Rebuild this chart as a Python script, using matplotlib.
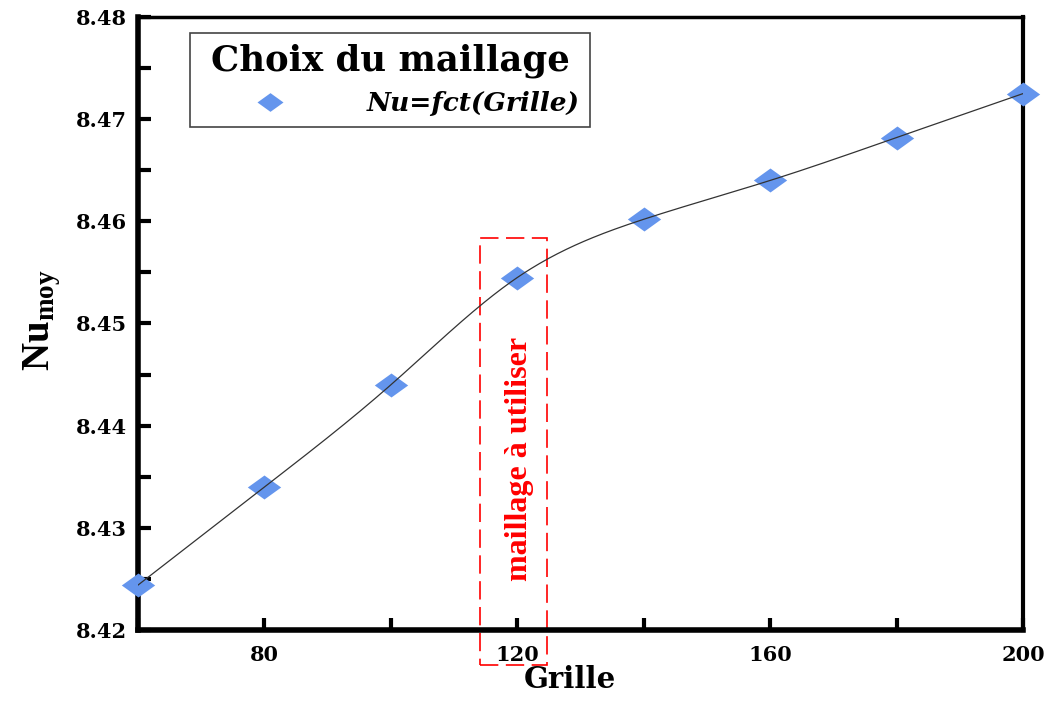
#!/usr/bin/env python3

import matplotlib
matplotlib.use('Agg')
import matplotlib.pyplot as plt
from matplotlib.patches import Rectangle
from matplotlib.ticker import MultipleLocator, FormatStrFormatter
import numpy as np

grille = [60, 80, 100, 120, 140, 160, 180, 200]
nu_moy = [8.4244, 8.4340, 8.4440, 8.4545, 8.4602, 8.4640, 8.4682, 8.4725]

legend_title = 'Choix du maillage'
series_label = 'Nu=fct(Grille)'
note = 'maillage à utiliser'


def natural_spline(x, y, n=400):
    # plain natural cubic spline, just for the smooth line through the points
    x = np.asarray(x, float)
    y = np.asarray(y, float)
    h = np.diff(x)
    k = len(x)
    A = np.zeros((k, k))
    b = np.zeros(k)
    A[0, 0] = A[-1, -1] = 1
    for i in range(1, k - 1):
        A[i, i - 1] = h[i - 1]
        A[i, i] = 2 * (h[i - 1] + h[i])
        A[i, i + 1] = h[i]
        b[i] = 6 * ((y[i + 1] - y[i]) / h[i] - (y[i] - y[i - 1]) / h[i - 1])
    m = np.linalg.solve(A, b)
    xs = np.linspace(x[0], x[-1], n)
    idx = np.clip(np.searchsorted(x, xs) - 1, 0, k - 2)
    t = xs - x[idx]
    hi = h[idx]
    a = (m[idx + 1] - m[idx]) / (6 * hi)
    c = m[idx] / 2
    d = (y[idx + 1] - y[idx]) / hi - hi * (2 * m[idx] + m[idx + 1]) / 6
    ys = y[idx] + d * t + c * t ** 2 + a * t ** 3
    return xs, ys


wide = ['DejaVu Serif']
narrow = ['Liberation Serif', 'DejaVu Serif']

plt.rcParams['font.family'] = wide
plt.rcParams['font.weight'] = 'bold'
plt.rcParams['mathtext.fontset'] = 'custom'
plt.rcParams['mathtext.rm'] = 'Liberation Serif:bold'
plt.rcParams['mathtext.bf'] = 'Liberation Serif:bold'
plt.rcParams['mathtext.it'] = 'Liberation Serif:bold:italic'

fig = plt.figure(figsize=(10.46, 7.02), dpi=100)
ax = fig.add_axes([0.132, 0.1026, 0.846, 0.8732])

diamond = [(-1, 0), (0, 0.72), (1, 0), (0, -0.72), (-1, 0)]

xs, ys = natural_spline(grille, nu_moy)
ax.plot(xs, ys, color='#333333', lw=0.9, zorder=4)
ax.plot(grille, nu_moy, linestyle='none', marker=diamond, markersize=24,
        color='#6495ED', markeredgewidth=0, label=series_label,
        clip_on=False, zorder=3)

ax.set_xlim(60, 200)
ax.set_ylim(8.42, 8.48)
ax.xaxis.set_major_locator(MultipleLocator(40))
ax.xaxis.set_minor_locator(MultipleLocator(20))
ax.yaxis.set_major_locator(MultipleLocator(0.01))
ax.yaxis.set_minor_locator(MultipleLocator(0.005))
ax.set_xticks([80, 120, 160, 200])
ax.xaxis.set_major_formatter(FormatStrFormatter('%d'))
ax.yaxis.set_major_formatter(FormatStrFormatter('%.2f'))

ax.tick_params(which='both', direction='in', width=3, length=9,
               top=False, right=False, labelsize=15, pad=8)
ax.tick_params(axis='x', pad=11)

ax.spines['left'].set_linewidth(4)
ax.spines['bottom'].set_linewidth(4)
ax.spines['right'].set_linewidth(3)
ax.spines['top'].set_linewidth(2.5)

ax.set_xlabel('Grille', fontsize=21, fontweight='bold')
ax.xaxis.set_label_coords(0.488, -0.0575)
ax.set_ylabel(r'$\mathbf{Nu_{moy}}$', fontsize=28)
ax.yaxis.set_label_coords(-0.085, 0.505)

# red dashed box marking the chosen mesh
box = Rectangle((114.1, 8.4166), 10.6, 8.4584 - 8.4166, fill=False,
                edgecolor='red', lw=1.2, linestyle=(0, (11, 4.5)),
                clip_on=False, zorder=2)
ax.add_patch(box)
ax.text(120.3, 8.4367, note, rotation=90, color='red', fontsize=23,
        family=narrow, fontweight='bold', ha='center', va='center', zorder=5)

leg = ax.legend(loc='upper left', bbox_to_anchor=(0.0586, 0.974),
                borderaxespad=0, title=legend_title,
                title_fontproperties={'size': 25.5, 'weight': 'bold', 'family': wide},
                prop={'size': 19, 'style': 'italic', 'weight': 'bold', 'family': wide},
                fancybox=False, edgecolor='#444444', framealpha=1,
                handletextpad=1.0, borderpad=0.4, markerscale=0.78,
                handlelength=5.3)
leg.get_frame().set_linewidth(1.2)

plt.savefig('out.png', dpi=100)
